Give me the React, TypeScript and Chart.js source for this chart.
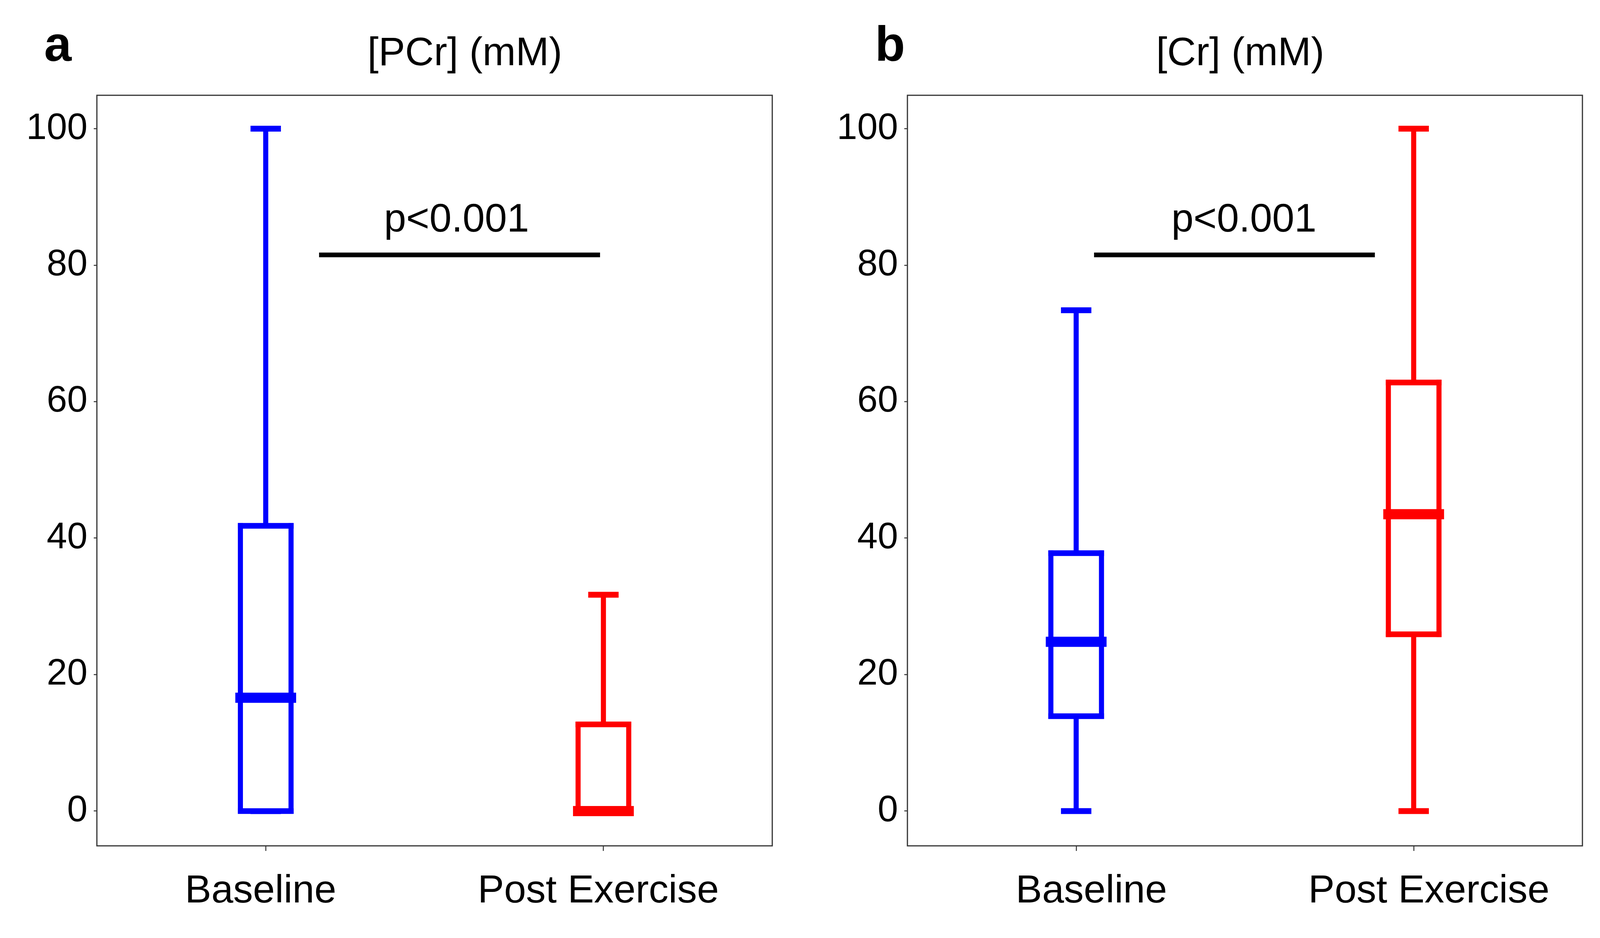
import React, { useEffect, useRef } from 'react';
import { Chart, registerables } from 'chart.js';

Chart.register(...registerables);

// ---------- data ----------
const categories = ['Baseline', 'Post Exercise'];
const yTicks = [0, 20, 40, 60, 80, 100];

// Panel a: [PCr] (mM)
const pcrMin = [0, 0];
const pcrQ1 = [0, 0];
const pcrMedian = [16.6, 0];
const pcrQ3 = [41.8, 12.7];
const pcrMax = [100, 31.7];

// Panel b: [Cr] (mM)
const crMin = [0, 0];
const crQ1 = [13.9, 25.9];
const crMedian = [24.8, 43.5];
const crQ3 = [37.8, 62.8];
const crMax = [73.4, 100];

const groupColors = ['#0000FF', '#FF0000'];
const pLabel = 'p<0.001';
const sigLineValue = 81.5;
const pTextValue = 84.9;

// ---------- layout / style ----------
const FONT = '"Liberation Sans", Arial, Helvetica, sans-serif';
const H = 2402;
const BOX_WIDTH = 0.15; // fraction of category step
const CAP_WIDTH = 0.09;

type Panel = {
  letter: string;
  title: string;
  min: number[];
  q1: number[];
  median: number[];
  q3: number[];
  max: number[];
  canvasLeft: number;
  canvasWidth: number;
  plotLeft: number;
  plotRight: number;
  titleX: number;
  letterX: number;
  labelOffset: number;
  sigFrom: number;
  sigTo: number;
  pTextX: number;
};

const panels: Panel[] = [
  {
    letter: 'a',
    title: '[PCr] (mM)',
    min: pcrMin,
    q1: pcrQ1,
    median: pcrMedian,
    q3: pcrQ3,
    max: pcrMax,
    canvasLeft: 0,
    canvasWidth: 2100,
    plotLeft: 248,
    plotRight: 1977,
    titleX: 1190,
    letterX: 113,
    labelOffset: -13,
    sigFrom: 0.158,
    sigTo: 0.99,
    pTextX: 0.565,
  },
  {
    letter: 'b',
    title: '[Cr] (mM)',
    min: crMin,
    q1: crQ1,
    median: crMedian,
    q3: crQ3,
    max: crMax,
    canvasLeft: 2100,
    canvasWidth: 2103,
    plotLeft: 223,
    plotRight: 1951,
    titleX: 1075,
    letterX: 140,
    labelOffset: 39,
    sigFrom: 0.053,
    sigTo: 0.885,
    pTextX: 0.497,
  },
];

function seg(ctx: CanvasRenderingContext2D, x1: number, y1: number, x2: number, y2: number) {
  ctx.beginPath();
  ctx.moveTo(x1, y1);
  ctx.lineTo(x2, y2);
  ctx.stroke();
}

function makePlugin(p: Panel) {
  return {
    id: 'boxplot_' + p.letter,
    afterDatasetsDraw(chart: any) {
      const ctx: CanvasRenderingContext2D = chart.ctx;
      const x = chart.scales.x;
      const y = chart.scales.y;
      const step = x.getPixelForValue(1) - x.getPixelForValue(0);
      const halfW = (step * BOX_WIDTH) / 2;
      const capHalf = (step * CAP_WIDTH) / 2;
      ctx.save();
      ctx.lineCap = 'butt';
      categories.forEach((_, i) => {
        const cx = x.getPixelForValue(i);
        const col = groupColors[i];
        const yMin = y.getPixelForValue(p.min[i]);
        const yQ1 = y.getPixelForValue(p.q1[i]);
        const yMed = y.getPixelForValue(p.median[i]);
        const yQ3 = y.getPixelForValue(p.q3[i]);
        const yMax = y.getPixelForValue(p.max[i]);
        ctx.strokeStyle = col;
        // whiskers
        ctx.lineWidth = 13;
        seg(ctx, cx, yQ3, cx, yMax);
        seg(ctx, cx, yQ1, cx, yMin);
        ctx.lineWidth = 15;
        seg(ctx, cx - capHalf, yMax, cx + capHalf, yMax);
        seg(ctx, cx - capHalf, yMin, cx + capHalf, yMin);
        // box
        ctx.fillStyle = '#ffffff';
        ctx.fillRect(cx - halfW, yQ3, 2 * halfW, yQ1 - yQ3);
        ctx.lineWidth = 13;
        seg(ctx, cx - halfW, yQ3 - 7, cx - halfW, yQ1 + 7);
        seg(ctx, cx + halfW, yQ3 - 7, cx + halfW, yQ1 + 7);
        ctx.lineWidth = 14.5;
        seg(ctx, cx - halfW - 6.5, yQ3, cx + halfW + 6.5, yQ3);
        seg(ctx, cx - halfW - 6.5, yQ1, cx + halfW + 6.5, yQ1);
        // median
        ctx.lineWidth = 26;
        seg(ctx, cx - halfW - 13, yMed, cx + halfW + 13, yMed);
      });
      // significance bar
      ctx.strokeStyle = '#000000';
      ctx.lineWidth = 12;
      const sy = y.getPixelForValue(sigLineValue);
      seg(ctx, x.getPixelForValue(p.sigFrom), sy, x.getPixelForValue(p.sigTo), sy);
      ctx.fillStyle = '#000000';
      ctx.font = `102px ${FONT}`;
      ctx.textAlign = 'center';
      ctx.textBaseline = 'alphabetic';
      ctx.fillText(pLabel, x.getPixelForValue(p.pTextX), y.getPixelForValue(pTextValue));
      ctx.restore();
    },
    afterDraw(chart: any) {
      const ctx: CanvasRenderingContext2D = chart.ctx;
      const a = chart.chartArea;
      ctx.save();
      ctx.strokeStyle = '#333333';
      ctx.lineWidth = 3;
      ctx.strokeRect(a.left, a.top, a.right - a.left, a.bottom - a.top);
      ctx.fillStyle = '#000000';
      ctx.textBaseline = 'alphabetic';
      ctx.textAlign = 'center';
      ctx.font = `102px ${FONT}`;
      ctx.fillText(p.title, p.titleX, 167);
      ctx.textAlign = 'left';
      ctx.font = `bold 126px ${FONT}`;
      ctx.fillText(p.letter, p.letterX, 156);
      ctx.restore();
    },
  };
}

function PanelChart({ p }: { p: Panel }) {
  const ref = useRef<HTMLCanvasElement>(null);
  useEffect(() => {
    if (!ref.current) return;
    const chart = new Chart(ref.current, {
      type: 'bar',
      data: {
        labels: categories,
        datasets: [
          {
            label: p.title,
            data: categories.map((_, i) => [p.q1[i], p.q3[i]]) as any,
            backgroundColor: 'rgba(0,0,0,0)',
            borderWidth: 0,
          },
        ],
      },
      options: {
        animation: false,
        responsive: false,
        maintainAspectRatio: false,
        devicePixelRatio: 1,
        events: [],
        layout: {
          padding: { left: 0, top: 244, right: p.canvasWidth - p.plotRight, bottom: 0 },
        },
        plugins: {
          legend: { display: false },
          tooltip: { enabled: false },
          title: { display: false },
        },
        scales: {
          x: {
            type: 'category',
            offset: true,
            grid: {
              offset: false,
              drawOnChartArea: false,
              drawTicks: true,
              tickLength: 13,
              tickWidth: 2.5,
              tickColor: '#333333',
            },
            border: { display: false },
            ticks: {
              font: { family: FONT, size: 101 },
              color: '#000000',
              padding: 44,
              labelOffset: p.labelOffset,
              maxRotation: 0,
              autoSkip: false,
            },
            afterFit: (s: any) => {
              s.height = H - 2166;
            },
          },
          y: {
            type: 'linear',
            min: -5.1,
            max: 104.9,
            afterBuildTicks: (s: any) => {
              s.ticks = yTicks.map((v) => ({ value: v }));
            },
            grid: {
              drawOnChartArea: false,
              drawTicks: true,
              tickLength: 8,
              tickWidth: 2.5,
              tickColor: '#333333',
            },
            border: { display: false },
            ticks: {
              font: { family: FONT, size: 94 },
              color: '#000000',
              padding: 16,
            },
            afterFit: (s: any) => {
              s.width = p.plotLeft;
            },
          },
        },
      },
      plugins: [makePlugin(p)],
    });
    return () => chart.destroy();
  }, [p]);
  return (
    <canvas
      ref={ref}
      width={p.canvasWidth}
      height={H}
      style={{ position: 'absolute', left: p.canvasLeft, top: 0, width: p.canvasWidth, height: H }}
    />
  );
}

export default function App() {
  return (
    <div style={{ position: 'fixed', left: 0, top: 0, width: 4203, height: H, background: '#ffffff', overflow: 'hidden' }}>
      {panels.map((p) => (
        <PanelChart key={p.letter} p={p} />
      ))}
    </div>
  );
}
